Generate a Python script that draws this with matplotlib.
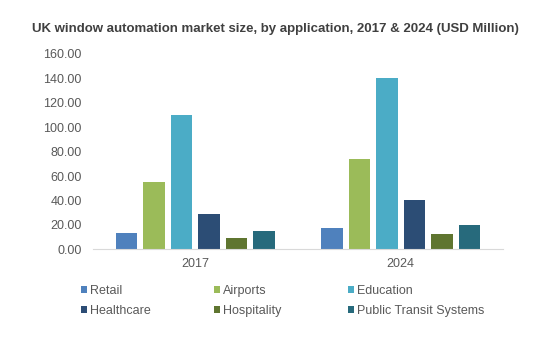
import matplotlib
matplotlib.use("Agg")
import matplotlib.pyplot as plt
import numpy as np

years = ["2017", "2024"]
applications = ["Retail", "Airports", "Education", "Healthcare", "Hospitality", "Public Transit Systems"]
values_2017 = [13.6, 55.2, 110.0, 29.2, 9.3, 15.2]
values_2024 = [17.5, 74.0, 140.4, 40.4, 12.8, 19.9]
colors = ["#4f81bd", "#9bbb59", "#4bacc6", "#2c4d75", "#5f7530", "#276a7c"]
yticks = [0, 20, 40, 60, 80, 100, 120, 140, 160]

plt.rcParams['font.family'] = ['Liberation Sans', 'DejaVu Sans']

fig = plt.figure(figsize=(5.56, 3.43), dpi=100)
ax = fig.add_axes([0.167, 0.273, 0.738, 0.570])

x = np.arange(len(years))
slot = 0.134
width = 0.105
n = len(applications)
handles = []
for i, app in enumerate(applications):
    vals = [values_2017[i], values_2024[i]]
    b = ax.bar(x + (i - (n - 1) / 2) * slot, vals, width, color=colors[i], label=app)
    handles.append(b)

ax.set_xlim(-0.5, 1.5)
ax.set_ylim(0, 160)
ax.set_yticks(yticks)
ax.set_yticklabels([f"{v:.2f}" for v in yticks])
ax.set_xticks(x)
ax.set_xticklabels(years)
ax.tick_params(axis='both', length=0, labelsize=9, colors="#595959", pad=6)
ax.tick_params(axis='y', pad=8)
for s in ["top", "right", "left"]:
    ax.spines[s].set_visible(False)
ax.spines["bottom"].set_color("#d9d9d9")

fig.text(0.057, 0.914, "UK window automation market size, by application, 2017 & 2024 (USD Million)",
         fontsize=9.5, fontweight="bold", color="#404040", ha="left", va="center")

col_x = [81 / 556, 214 / 556, 348 / 556]
for c in range(3):
    idx = [c, c + 3]
    leg = fig.legend([handles[k] for k in idx], [applications[k] for k in idx],
                     ncol=1, loc="upper left", bbox_to_anchor=(col_x[c], 0.169), frameon=False,
                     fontsize=9, handlelength=0.5, handleheight=0.5, handletextpad=0.2,
                     labelspacing=0.65, borderaxespad=0, borderpad=0)
    for t in leg.get_texts():
        t.set_color("#595959")

fig.savefig("out.png", dpi=100, facecolor="white")
